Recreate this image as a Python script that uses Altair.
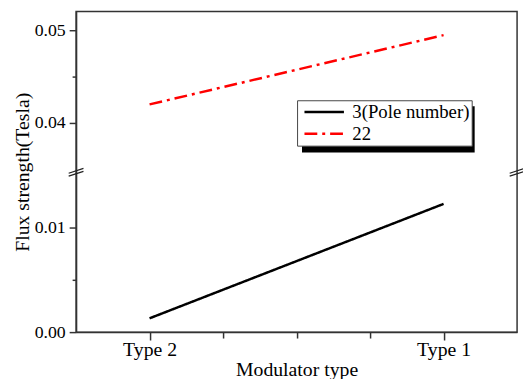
import altair as alt
import pandas as pd

categories = ["Type 2", "Type 1"]
cat_pos = [1, 2]
series_names = ["3(Pole number)", "22"]
values_3 = [0.00132, 0.01226]
values_22 = [0.0420, 0.04947]

rows = []
for name, vals in zip(series_names, [values_3, values_22]):
    for c, p, v in zip(categories, cat_pos, vals):
        rows.append({"series": name, "type": c, "x": p, "y": v})
df = pd.DataFrame(rows)

lower_top = 0.015283
upper_bottom = 0.034681
upper_top = 0.052021
H = 325
W = 447
brk = 163

yscale = alt.Scale(domain=[0, lower_top, upper_bottom, upper_top],
                   range=[H, brk, brk, 0], nice=False, zero=False)
xscale = alt.Scale(domain=[0.75, 2.25], nice=False, zero=False)

font = "Liberation Serif"

xaxis = alt.Axis(values=[1, 1.25, 1.5, 1.75, 2], grid=False,
                 labelExpr="datum.value == 1 ? 'Type 2' : (datum.value == 2 ? 'Type 1' : '')",
                 tickSize={"condition": {"test": "datum.value == 1 || datum.value == 2", "value": 8}, "value": 6},
                 title="Modulator type", labelFont=font, titleFont=font,
                 labelFontSize=20, titleFontSize=20, titleFontWeight="normal",
                 labelColor="black", titleColor="black", domainColor="#333", tickColor="#333",
                 domainWidth=1.5, tickWidth=1.5, labelPadding=0, titlePadding=0, labelFlush=False)
yaxis = alt.Axis(values=[0, 0.005, 0.01, 0.04, 0.045, 0.05], grid=False,
                 labelExpr="(datum.value == 0.005 || datum.value == 0.045) ? '' : format(datum.value, '.2f')",
                 tickSize={"condition": {"test": "datum.value == 0.005 || datum.value == 0.045", "value": 4}, "value": 7},
                 title="Flux strength(Tesla)", labelFont=font, titleFont=font,
                 labelFontSize=18, titleFontSize=20, titleFontWeight="normal",
                 labelColor="black", titleColor="black", domainColor="#333", tickColor="#333",
                 domainWidth=1.5, tickWidth=1.5, labelPadding=4, titlePadding=2, labelFlush=False)

color_scale = alt.Scale(domain=series_names, range=["black", "red"])
dash_scale = alt.Scale(domain=series_names, range=[[1, 0], [13, 5, 3, 5]])

legend = alt.Legend(title=None, orient="none", legendX=224, legendY=90,
                    symbolType="stroke", symbolSize=1600, symbolStrokeWidth=2.5,
                    labelFont=font, labelFontSize=19, labelColor="black",
                    fillColor="white", strokeColor="#444", padding=2,
                    clipHeight=20, rowPadding=2, symbolOffset=4, labelOffset=7, zindex=1)

lines = alt.Chart(df).mark_line(strokeWidth=2.5).encode(
    x=alt.X("x:Q", scale=xscale, axis=xaxis),
    y=alt.Y("y:Q", scale=yscale, axis=yaxis),
    color=alt.Color("series:N", scale=color_scale, legend=legend),
    strokeDash=alt.StrokeDash("series:N", scale=dash_scale, legend=legend),
    detail="series:N",
)

shadow = alt.Chart(pd.DataFrame({"a": [0]})).mark_rect(color="black").encode(
    x=alt.value(229), x2=alt.value(404), y=alt.value(96), y2=alt.value(143)
)

brk_df = pd.DataFrame({"x": [0.75, 2.25], "y": [lower_top, lower_top]})
breaks = alt.Chart(brk_df).mark_point(
    shape="M-1,0.13L1,-0.53M-1,0.53L1,-0.13", size=225, filled=False,
    stroke="#222", strokeWidth=1.3, opacity=1
).encode(x=alt.X("x:Q", scale=xscale), y=alt.Y("y:Q", scale=yscale))

chart = alt.layer(shadow, lines, breaks).properties(
    width=W, height=H,
    autosize=alt.AutoSizeParams(type="none"),
    padding={"left": 69, "top": 1, "right": 6, "bottom": 45},
).configure(font=font).configure_axis(labelFont=font, titleFont=font).configure_legend(
    labelFont=font
).configure_view(stroke="#333", strokeWidth=1.5)

chart.save("out.html", embed_options={"renderer": "svg", "actions": False})
